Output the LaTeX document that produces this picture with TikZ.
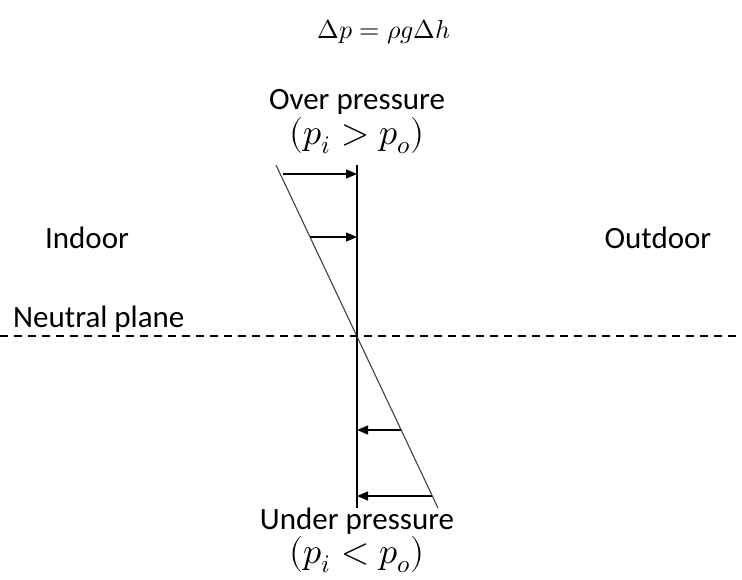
\documentclass[tikz,border=0pt]{standalone}
\usepackage{fontspec}
\usepackage{unicode-math}
\setmainfont{Carlito}
\setmathfont{Latin Modern Math}
\usetikzlibrary{arrows.meta}

\begin{document}
\begin{tikzpicture}[
  x=1pt, y=-1pt,
  txt/.style={inner sep=0pt, font=\fontsize{31}{36}\selectfont},
  mth/.style={inner sep=0pt, font=\fontsize{36}{40}\selectfont},
  arrow/.style={-{Triangle[length=11pt, width=9pt]}, line width=1.3pt},
  wall/.style={line width=1.5pt},
  slope/.style={line width=1.1pt, black!75}
]
\useasboundingbox (0,0) rectangle (742,579);

% formula
\node[inner sep=0pt, font=\fontsize{26}{30}\selectfont] (eq) at (384,32) {$\Delta p = \rho g \Delta h$};

% labels
\node[txt] (over) at (357,102) {Over pressure};
\node[mth] (overc) at (357,136) {$(p_i > p_o)$};
\node[txt] (under) at (357,521) {Under pressure};
\node[mth] (underc) at (357,555) {$(p_i < p_o)$};
\node[txt] (indoor) at (87,238) {Indoor};
\node[txt] (outdoor) at (658,238) {Outdoor};
\node[txt, anchor=base west] (neutral) at (13,327) {Neutral plane};

% wall and pressure line
\coordinate (wtop) at (357,165);
\coordinate (wbot) at (357,508);
\coordinate (stop) at (276,165);
\coordinate (sbot) at (438,508);
\draw[wall] (wtop) -- (wbot);
\draw[slope] (stop) -- (sbot);

% neutral plane
\coordinate (nl) at (0,336);
\coordinate (nr) at (742,336);
\draw[line width=1.3pt, dash pattern=on 8pt off 6pt] (nl) -- (nr);

% pressure arrows
\coordinate (a1) at (283,174);
\coordinate (b1) at (357,174);
\coordinate (a2) at (310,237);
\coordinate (b2) at (357,237);
\coordinate (a3) at (401,430);
\coordinate (b3) at (357,430);
\coordinate (a4) at (432,496);
\coordinate (b4) at (357,496);
\foreach \i in {1,...,4} {
  \draw[arrow] (a\i) -- (b\i);
}
\end{tikzpicture}
\end{document}
